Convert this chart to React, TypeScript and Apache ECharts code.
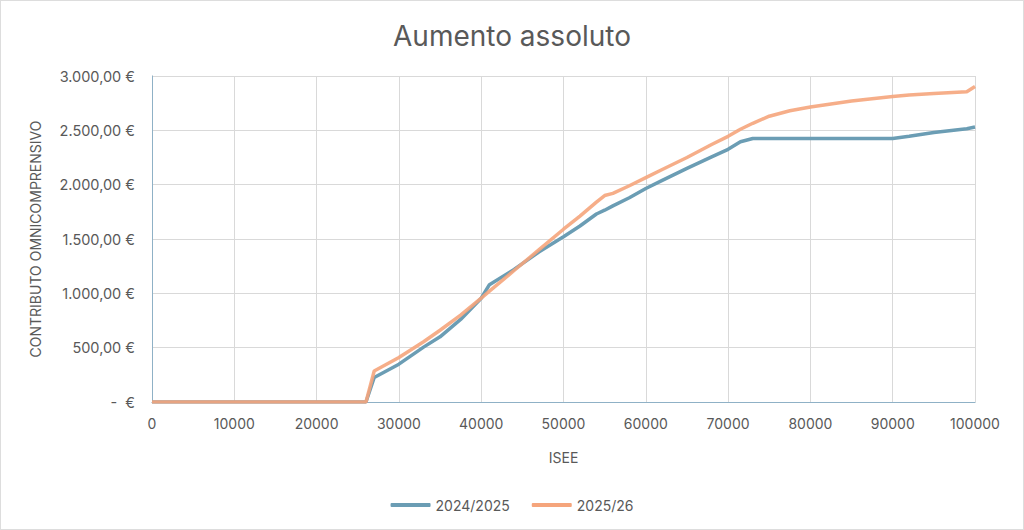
import React, { useEffect, useRef } from "react";
import * as echarts from "echarts";

// ISEE values (x) and the two contribution curves
const isee = [
  0, 26000, 27000, 30000, 33000, 35000, 37500, 40000, 41000, 44000, 47000, 50000,
  52000, 54000, 55000, 56000, 58000, 60000, 62000, 65000, 68000, 70000, 71500,
  73000, 75000, 77500, 80000, 85000, 90000, 92000, 95000, 99000, 100000,
];

const contributo2024 = [
  0, 0, 225, 348, 505, 600, 760, 955, 1080, 1220, 1380, 1520,
  1620, 1730, 1765, 1805, 1880, 1965, 2040, 2150, 2255, 2325, 2395,
  2425, 2425, 2425, 2425, 2425, 2425, 2445, 2480, 2515, 2530,
];

const contributo2025 = [
  0, 0, 285, 410, 555, 660, 800, 955, 1020, 1210, 1400, 1590,
  1710, 1840, 1900, 1920, 1990, 2065, 2140, 2250, 2370, 2445, 2510,
  2565, 2630, 2680, 2715, 2770, 2812, 2825, 2840, 2855, 2903,
];

const seriesNames = ["2024/2025", "2025/26"];
const seriesColors = ["#6b9db4", "#f5a57c"];

const textColor = "#595959";
const font = "Inter, 'Noto Sans', sans-serif";

// 3000 -> "3.000,00 €", 0 -> "-  €"
const formatEuro = (v: number) => {
  if (v === 0) return "-  €";
  const int = Math.floor(v).toString().replace(/\B(?=(\d{3})+(?!\d))/g, ".");
  return `${int},00 €`;
};

const App: React.FC = () => {
  const chartRef = useRef<HTMLDivElement>(null);

  useEffect(() => {
    document.body.style.margin = "0";
    if (!chartRef.current) return;
    const chart = echarts.init(chartRef.current, null, { renderer: "svg" });

    const toPairs = (ys: number[]) => isee.map((x, i) => [x, ys[i]]);

    chart.setOption({
      animation: false,
      backgroundColor: "#ffffff",
      title: {
        text: "Aumento assoluto",
        left: "center",
        top: 16,
        textStyle: { color: textColor, fontSize: 28, fontWeight: "normal", fontFamily: font },
      },
      legend: {
        top: 492,
        left: "center",
        icon: "roundRect",
        itemWidth: 40,
        itemHeight: 4,
        itemGap: 22,
        textStyle: { color: textColor, fontSize: 14, fontFamily: font },
        data: seriesNames,
      },
      grid: { left: 151, right: 48, top: 75, bottom: 127 },
      xAxis: [
        {
          type: "value",
          min: 0,
          max: 100000,
          interval: 10000,
          name: "ISEE",
          nameLocation: "middle",
          nameGap: 48,
          nameTextStyle: { color: textColor, fontSize: 14, fontFamily: font },
          axisLine: { lineStyle: { color: "#d9d9d9" } },
          axisTick: { show: false },
          axisLabel: {
            color: textColor,
            fontSize: 14,
            fontFamily: font,
            margin: 14,
            formatter: (v: number) => String(v),
          },
          splitLine: { lineStyle: { color: "#d9d9d9" } },
        },
        {
          type: "value",
          position: "top",
          min: 0,
          max: 100000,
          axisLine: { show: true, lineStyle: { color: "#8fb1c6" } },
          axisTick: { show: false },
          axisLabel: { show: false },
          splitLine: { show: false },
        },
      ],
      yAxis: [
        {
          type: "value",
          min: 0,
          max: 3000,
          interval: 500,
          name: "CONTRIBUTO OMNICOMPRENSIVO",
          nameLocation: "middle",
          nameGap: 110,
          nameTextStyle: { color: textColor, fontSize: 14, fontFamily: font },
          axisLine: { show: true, lineStyle: { color: "#d9d9d9" } },
          axisTick: { show: false },
          axisLabel: {
            color: textColor,
            fontSize: 14.5,
            fontFamily: font,
            margin: 17,
            formatter: formatEuro,
          },
          splitLine: { lineStyle: { color: "#d9d9d9" } },
        },
        {
          type: "value",
          position: "right",
          min: 0,
          max: 3000,
          axisLine: { show: true, lineStyle: { color: "#8fb1c6" } },
          axisTick: { show: false },
          axisLabel: { show: false },
          splitLine: { show: false },
        },
      ],
      series: [
        {
          name: seriesNames[0],
          type: "line",
          data: toPairs(contributo2024),
          showSymbol: false,
          lineStyle: { width: 3.5, color: seriesColors[0] },
          itemStyle: { color: seriesColors[0] },
        },
        {
          name: seriesNames[1],
          type: "line",
          data: toPairs(contributo2025),
          showSymbol: false,
          lineStyle: { width: 3.5, color: seriesColors[1], opacity: 0.9 },
          itemStyle: { color: seriesColors[1] },
        },
      ],
    });

    return () => {
      chart.dispose();
    };
  }, []);

  return (
    <div
      style={{
        width: 1024,
        height: 530,
        boxSizing: "border-box",
        border: "1px solid #dddddd",
      }}
    >
      <div ref={chartRef} style={{ width: "100%", height: "100%" }} />
    </div>
  );
};

export default App;
